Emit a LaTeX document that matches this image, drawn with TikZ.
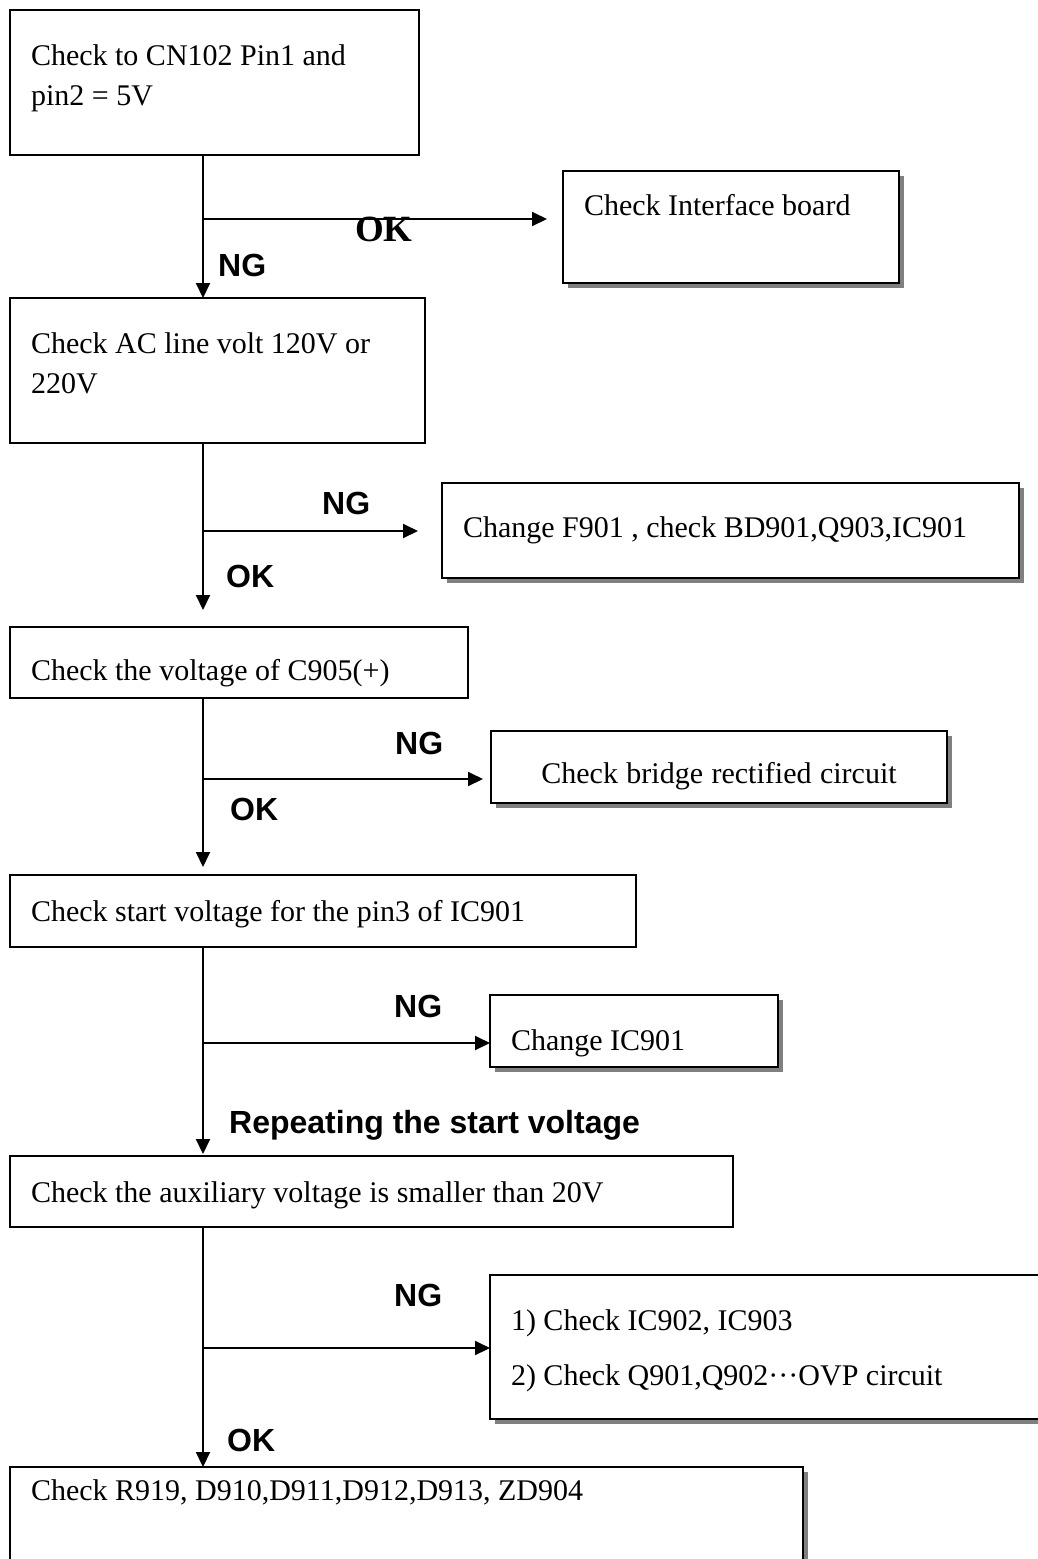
\documentclass[tikz,border=0pt]{standalone}
\usepackage{fontspec}
\setmainfont{Liberation Serif}
\setsansfont{Liberation Sans}
\usetikzlibrary{positioning, arrows.meta, shadows}

\begin{document}
\begin{tikzpicture}[
    x=1pt, y=-1pt,
    >={Triangle[length=15pt, width=14pt]},
    stepbox/.style={rectangle, draw, line width=2.4pt, anchor=north west,
                    align=left, inner xsep=21pt, inner ysep=0pt, outer sep=0pt,
                    font=\fontsize{30}{40}\selectfont,
                    execute at begin node={\spaceskip=7.5pt plus 2pt minus 1pt\relax}},
    shadowed/.style={fill=white,
                     drop shadow={shadow xshift=5pt, shadow yshift=-5pt,
                                  fill=black!50, opacity=1}},
    arrow/.style={->, line width=2pt},
    tag/.style={inner sep=0pt, anchor=base west,
                font=\fontsize{32}{32}\selectfont\sffamily\bfseries},
    oktag/.style={inner sep=0pt, anchor=base west,
                  font=\fontsize{37}{37}\selectfont\bfseries}
]
  \useasboundingbox[fill=white] (0,0) rectangle (1037,1559);

  % Left column: the checks in order
  \node[stepbox, text width=367pt, text height=55pt, text depth=90pt] (chk1) at (10,10)
    {Check to CN102 Pin1 and\\pin2 = 5V};
  \node[stepbox, below=143pt of chk1.south west, anchor=north west,
        text width=373pt, text height=55pt, text depth=90pt] (chk2)
    {Check AC line volt 120V or\\220V};
  \node[stepbox, below=184pt of chk2.south west, anchor=north west,
        text width=416pt, text height=53pt, text depth=18pt] (chk3)
    {Check the voltage of C905(+)};
  \node[stepbox, below=177pt of chk3.south west, anchor=north west,
        text width=584pt, text height=46pt, text depth=26pt] (chk4)
    {Check start voltage for the pin3 of IC901};
  \node[stepbox, below=209pt of chk4.south west, anchor=north west,
        text width=681pt, text height=46pt, text depth=25pt] (chk5)
    {Check the auxiliary voltage is smaller than 20V};
  \node[stepbox, shadowed, below=240pt of chk5.south west, anchor=north west,
        text width=751pt, text height=33pt, text depth=110pt] (chk6)
    {Check R919, D910,D911,D912,D913, ZD904};

  % Right column: the repairs
  \node[stepbox, shadowed, text width=294pt, text height=44pt, text depth=68pt] (iface) at (563,171)
    {Check Interface board};
  \node[stepbox, shadowed, text width=535pt, text height=54pt, text depth=41pt] (fuse) at (442,483)
    {Change F901 , check BD901,Q903,IC901};
  \node[stepbox, shadowed, align=center, text width=414pt, text height=52pt, text depth=20pt] (bridge) at (491,731)
    {Check bridge rectified circuit};
  \node[stepbox, shadowed, text width=246pt, text height=55pt, text depth=17pt] (chgic) at (490,995)
    {Change IC901};
  \node[stepbox, shadowed, font=\fontsize{30}{55}\selectfont,
        text width=558pt, text height=55pt, text depth=89pt] (ovp) at (490,1275)
    {1) Check IC902, IC903\\2) Check Q901,Q902\textperiodcentered\textperiodcentered\textperiodcentered OVP circuit};

  % Forks on the trunk
  \coordinate (fork1) at (203,219);
  \coordinate (fork2) at (203,531);
  \coordinate (fork3) at (203,779);
  \coordinate (fork4) at (203,1043);
  \coordinate (fork5) at (203,1348);

  % Trunk
  \draw[arrow] (chk1.south -| fork1) -- (chk2.north -| fork1);
  \draw[arrow, shorten >=17pt] (chk2.south -| fork2) -- (chk3.north -| fork2);
  \draw[arrow, shorten >=8pt] (chk3.south -| fork3) -- (chk4.north -| fork3);
  \draw[arrow, shorten >=2pt] (chk4.south -| fork4) -- (chk5.north -| fork4);
  \draw[arrow] (chk5.south -| fork5) -- (chk6.north -| fork5);

  % Branches
  \draw[arrow, shorten >=16pt] (fork1) -- (fork1 -| iface.west);
  \draw[arrow, shorten >=24pt] (fork2) -- (fork2 -| fuse.west);
  \draw[arrow, shorten >=8pt] (fork3) -- (fork3 -| bridge.west);
  \draw[arrow] (fork4) -- (fork4 -| chgic.west);
  \draw[arrow] (fork5) -- (fork5 -| ovp.west);

  % Labels
  \node[oktag] (ok1) at (355,241) {OK};
  \node[tag] (ng1) at (218,276) {NG};
  \node[tag] (ng2) at (322,514) {NG};
  \node[tag] (ok2) at (226,587) {OK};
  \node[tag] (ng3) at (395,754) {NG};
  \node[tag] (ok3) at (230,820) {OK};
  \node[tag] (ng4) at (394,1017) {NG};
  \node[tag] (rep) at (229,1133) {Repeating the start voltage};
  \node[tag] (ng5) at (394,1306) {NG};
  \node[tag] (ok5) at (227,1451) {OK};
\end{tikzpicture}
\end{document}
